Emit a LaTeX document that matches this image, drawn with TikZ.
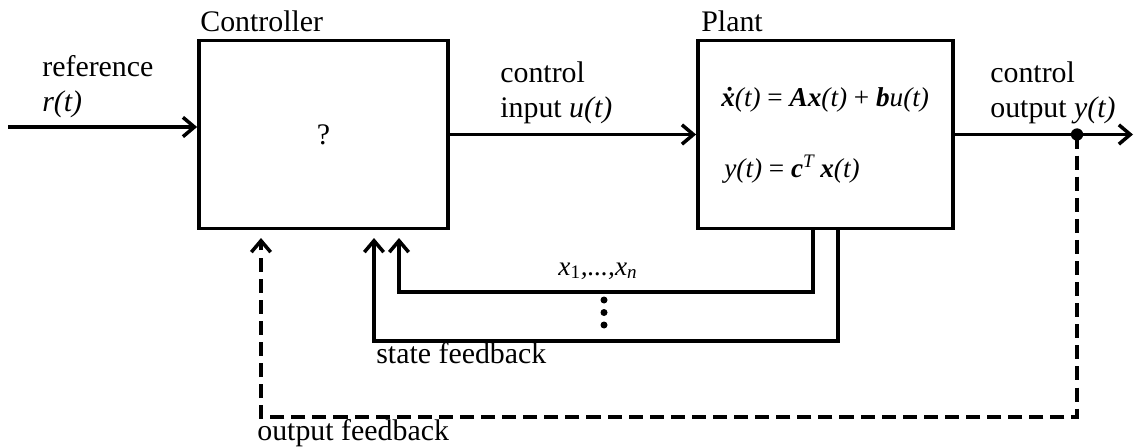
\documentclass[tikz,border=0pt]{standalone}
\usepackage{fontspec}
\setmainfont{Liberation Serif}
\usepackage{tikz}
\usetikzlibrary{arrows.meta, calc}
\tikzset{
  block/.style={
    draw,
    line width=2.2pt,
    minimum height=3.76cm,
    inner sep=0pt
  },
  sig/.style={
    -{Straight Barb[length=6.5pt, width=11pt, line width=2pt]},
    line width=2.2pt
  },
  fbdash/.style={
    line width=2.2pt,
    dash pattern=on 8pt off 4pt
  },
  lbl/.style={
    anchor=base west,
    inner sep=0pt,
    font=\fontsize{17}{20}\selectfont
  },
  eqn/.style={
    anchor=base west,
    inner sep=0pt,
    font=\fontsize{15.5}{18}\selectfont
  },
  tapdot/.style={
    circle,
    fill=black,
    inner sep=0pt,
    minimum size=7pt
  }
}
\newcommand{\bvec}[1]{\textbf{\textit{#1}}}
\begin{document}
\begin{tikzpicture}[x=0.02cm, y=-0.02cm]
    \useasboundingbox (0,0) rectangle (1135,446);

    % Bloecke
    \node[block, minimum width=4.98cm] (ctrl) at (323.5,134.5) {\fontsize{17}{20}\selectfont ?};
    \node[block, minimum width=5.1cm] (plant) at (825.5,134.5) {};
    \node[lbl] (ctrllbl) at (200,32) {Controller};
    \node[lbl] (plantlbl) at (701,32) {Plant};

    % Gleichungen der Strecke
    \node[eqn] (eqx) at (721,107) {\bvec{\.x}\textit{(t)} = \bvec{Ax}\textit{(t)} + \bvec{b}\textit{u(t)}};
    \node[eqn] (eqy) at (724,177) {\textit{y(t)} = \bvec{c}\textsuperscript{\textit{T}}\,\bvec{x}\textit{(t)}};

    % Signale
    \coordinate (refin) at (8,127);
    \coordinate (yout) at (1133,134.5);
    \coordinate (tap) at (1077,134.5);
    \draw[sig] (refin) -- (refin -| ctrl.west);
    \draw[sig] (ctrl.east) -- (plant.west);
    \draw[sig] (plant.east) -- (yout);
    \node[tapdot] (tapd) at (tap) {};

    \node[lbl] (reflbl) at (42,77) {reference};
    \node[lbl] (rlbl) at (42,112) {\textit{r(t)}};
    \node[lbl] (ulbl1) at (500,83) {control};
    \node[lbl] (ulbl2) at (500,117) {input \textit{u(t)}};
    \node[lbl] (ylbl1) at (990,83) {control};
    \node[lbl] (ylbl2) at (990,117) {output \textit{y(t)}};

    % Zustandsrueckfuehrung (innen / aussen)
    \coordinate (xin1) at (399,238);
    \coordinate (xin2) at (374,238);
    \draw[sig] (813,0 |- plant.south) -- (813,292) -- (399,292) -- (xin1);
    \draw[sig] (838,0 |- plant.south) -- (838,341) -- (374,341) -- (xin2);
    \node[eqn, anchor=base] (xlbl) at (598,275) {\textit{x}\textsubscript{1}\textit{,...,x}\textsubscript{\textit{n}}};
    \foreach \yy in {300,312.5,325}
      \fill (604,\yy) circle (3.5);
    \node[lbl] (sflbl) at (376,363) {state feedback};

    % Ausgangsrueckfuehrung (gestrichelt)
    \coordinate (yin) at (261,238);
    \draw[fbdash] (tap) -- (1077,417) -- (261,417) -- ($(yin)+(0,8)$);
    \draw[sig] ($(yin)+(0,9)$) -- (yin);
    \node[lbl] (oflbl) at (257,440) {output feedback};

\end{tikzpicture}
\end{document}
